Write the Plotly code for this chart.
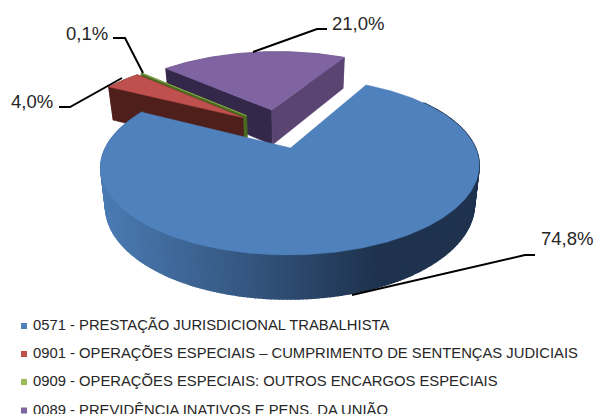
import math
import plotly.graph_objects as go

categories = [
    "0571 - PRESTAÇÃO JURISDICIONAL TRABALHISTA",
    "0901 - OPERAÇÕES ESPECIAIS – CUMPRIMENTO DE SENTENÇAS JUDICIAIS",
    "0909 - OPERAÇÕES ESPECIAIS: OUTROS ENCARGOS ESPECIAIS",
    "0089 - PREVIDÊNCIA INATIVOS E PENS. DA UNIÃO",
]
values = [74.8, 4.0, 0.1, 21.0]
value_labels = ["74,8%", "4,0%", "0,1%", "21,0%"]
top_colors = ["#4F81BD", "#C0504D", "#9BBB59", "#8064A2"]
arc_colors = [None, "#4F1F1C", "#4A6B1F", "#5A4472"]
start_face_colors = ["#1F334F", "#4F1F1C", "#4A6B1F", "#33284A"]
end_face_colors = ["#1F334F", "#4F1F1C", "#4A6B1F", "#5A4472"]

FIRST_ANGLE = 28.0
EXPLODE = 0.255
CX, CY, F, G, K = 290.5, 148.0, 185.0, 84.6, 0.209
H, KH = 37.5, 0.15
BOTTOM_SCALE = 0.975
SHEAR = 2.5


def project(x, d, bottom=False):
    den = 1 + K * d
    px = CX + F * x / den + SHEAR * d
    py = CY - G * d / den
    if bottom:
        px = CX + (px - CX) * BOTTOM_SCALE
        py = py + H / (1 + KH * d)
    return px, py


total = sum(values)
spans = [360.0 * v / total for v in values]
starts = []
a = FIRST_ANGLE
for s in spans:
    starts.append(a)
    a += s
mids = [st + sp / 2 for st, sp in zip(starts, spans)]
base = (math.sin(math.radians(mids[0])), math.cos(math.radians(mids[0])))


def apex(i):
    r = math.radians(mids[i])
    return EXPLODE * (math.sin(r) - base[0]), EXPLODE * (math.cos(r) - base[1])


def rim(i, t):
    ax, ad = apex(i)
    r = math.radians(t)
    return ax + math.sin(r), ad + math.cos(r)


def arc_angles(i, step=1.0):
    n = max(2, int(spans[i] / step) + 1)
    return [starts[i] + spans[i] * j / (n - 1) for j in range(n)]


fig = go.Figure()


def poly(points, color, lw=0.6):
    xs = [p[0] for p in points] + [points[0][0]]
    ys = [p[1] for p in points] + [points[0][1]]
    fig.add_trace(go.Scatter(x=xs, y=ys, mode="lines", fill="toself", fillcolor=color,
                             line=dict(color=color, width=lw), hoverinfo="skip", showlegend=False))


def lerp_color(px):
    stops = [(100, (76, 124, 180)), (250, (52, 86, 127)), (375, (31, 51, 79)), (490, (31, 51, 79))]
    for (x0, c0), (x1, c1) in zip(stops, stops[1:]):
        if px <= x1:
            t = max(0.0, (px - x0) / (x1 - x0))
            return "rgb(%d,%d,%d)" % tuple(c0[k] + (c1[k] - c0[k]) * t for k in range(3))
    return "rgb(31,51,79)"


def draw_slice(i):
    angles = arc_angles(i)
    pts = [rim(i, t) for t in angles]
    # outer wall
    if arc_colors[i] is None:
        for p, q in zip(pts, pts[1:]):
            if (p[1] + q[1]) / 2 > 0.6:
                continue
            a0, a1 = project(*p), project(*q)
            b0, b1 = project(*p, True), project(*q, True)
            poly([a0, a1, b1, b0], lerp_color((a0[0] + a1[0]) / 2), lw=1.5)
    else:
        poly([project(*p) for p in pts] + [project(*p, True) for p in reversed(pts)], arc_colors[i])
    # radial faces
    ap = apex(i)
    for corner, col in ((pts[0], start_face_colors[i]), (pts[-1], end_face_colors[i])):
        if i == 0:
            continue
        poly([project(*ap), project(*corner), project(*corner, True), project(*ap, True)], col)
    # top
    poly([project(*ap)] + [project(*p) for p in pts], top_colors[i], lw=0.5)


for i in [3, 2, 1, 0]:
    draw_slice(i)

# leader lines
LEADERS = [
    (0, [352, 525, 535], [295, 255, 255]),
    (1, [122, 70, 59], [78, 107, 107]),
    (2, [143, 125, 113], [73, 38, 38]),
    (3, [253, 317, 327], [52, 29, 29]),
]
for _, lx, ly in LEADERS:
    fig.add_trace(go.Scatter(x=lx, y=ly, mode="lines", line=dict(color="black", width=2),
                             hoverinfo="skip", showlegend=False))

# value labels
LABEL_POS = [(567, 238), (31.5, 101), (86.5, 33), (358, 23)]
for txt, (lx, ly) in zip(value_labels, LABEL_POS):
    fig.add_annotation(x=lx, y=ly, text=txt, showarrow=False, xanchor="center", yanchor="middle",
                       font=dict(family="Liberation Sans", size=18.5, color="#262626"))

# legend
LEG_Y = [325, 353, 381, 409.5]
for name, col, ly in zip(categories, top_colors, LEG_Y):
    fig.add_trace(go.Scatter(x=[24], y=[ly + 1], mode="markers",
                             marker=dict(symbol="square", size=6, color=col),
                             hoverinfo="skip", showlegend=False, cliponaxis=False))
    fig.add_annotation(x=31, y=ly, text=name, showarrow=False, xanchor="left", yanchor="middle",
                       font=dict(family="Liberation Sans", size=14.8, color="#262626"))

fig.update_layout(
    width=594, height=414, margin=dict(l=0, r=0, t=0, b=0),
    paper_bgcolor="white", plot_bgcolor="white", showlegend=False,
    xaxis=dict(range=[0, 594], visible=False, fixedrange=True),
    yaxis=dict(range=[414, 0], visible=False, fixedrange=True),
)
fig.write_html("out.html", config={"displayModeBar": False},
               post_script="document.body.style.margin='0';document.body.style.overflow='hidden';")
